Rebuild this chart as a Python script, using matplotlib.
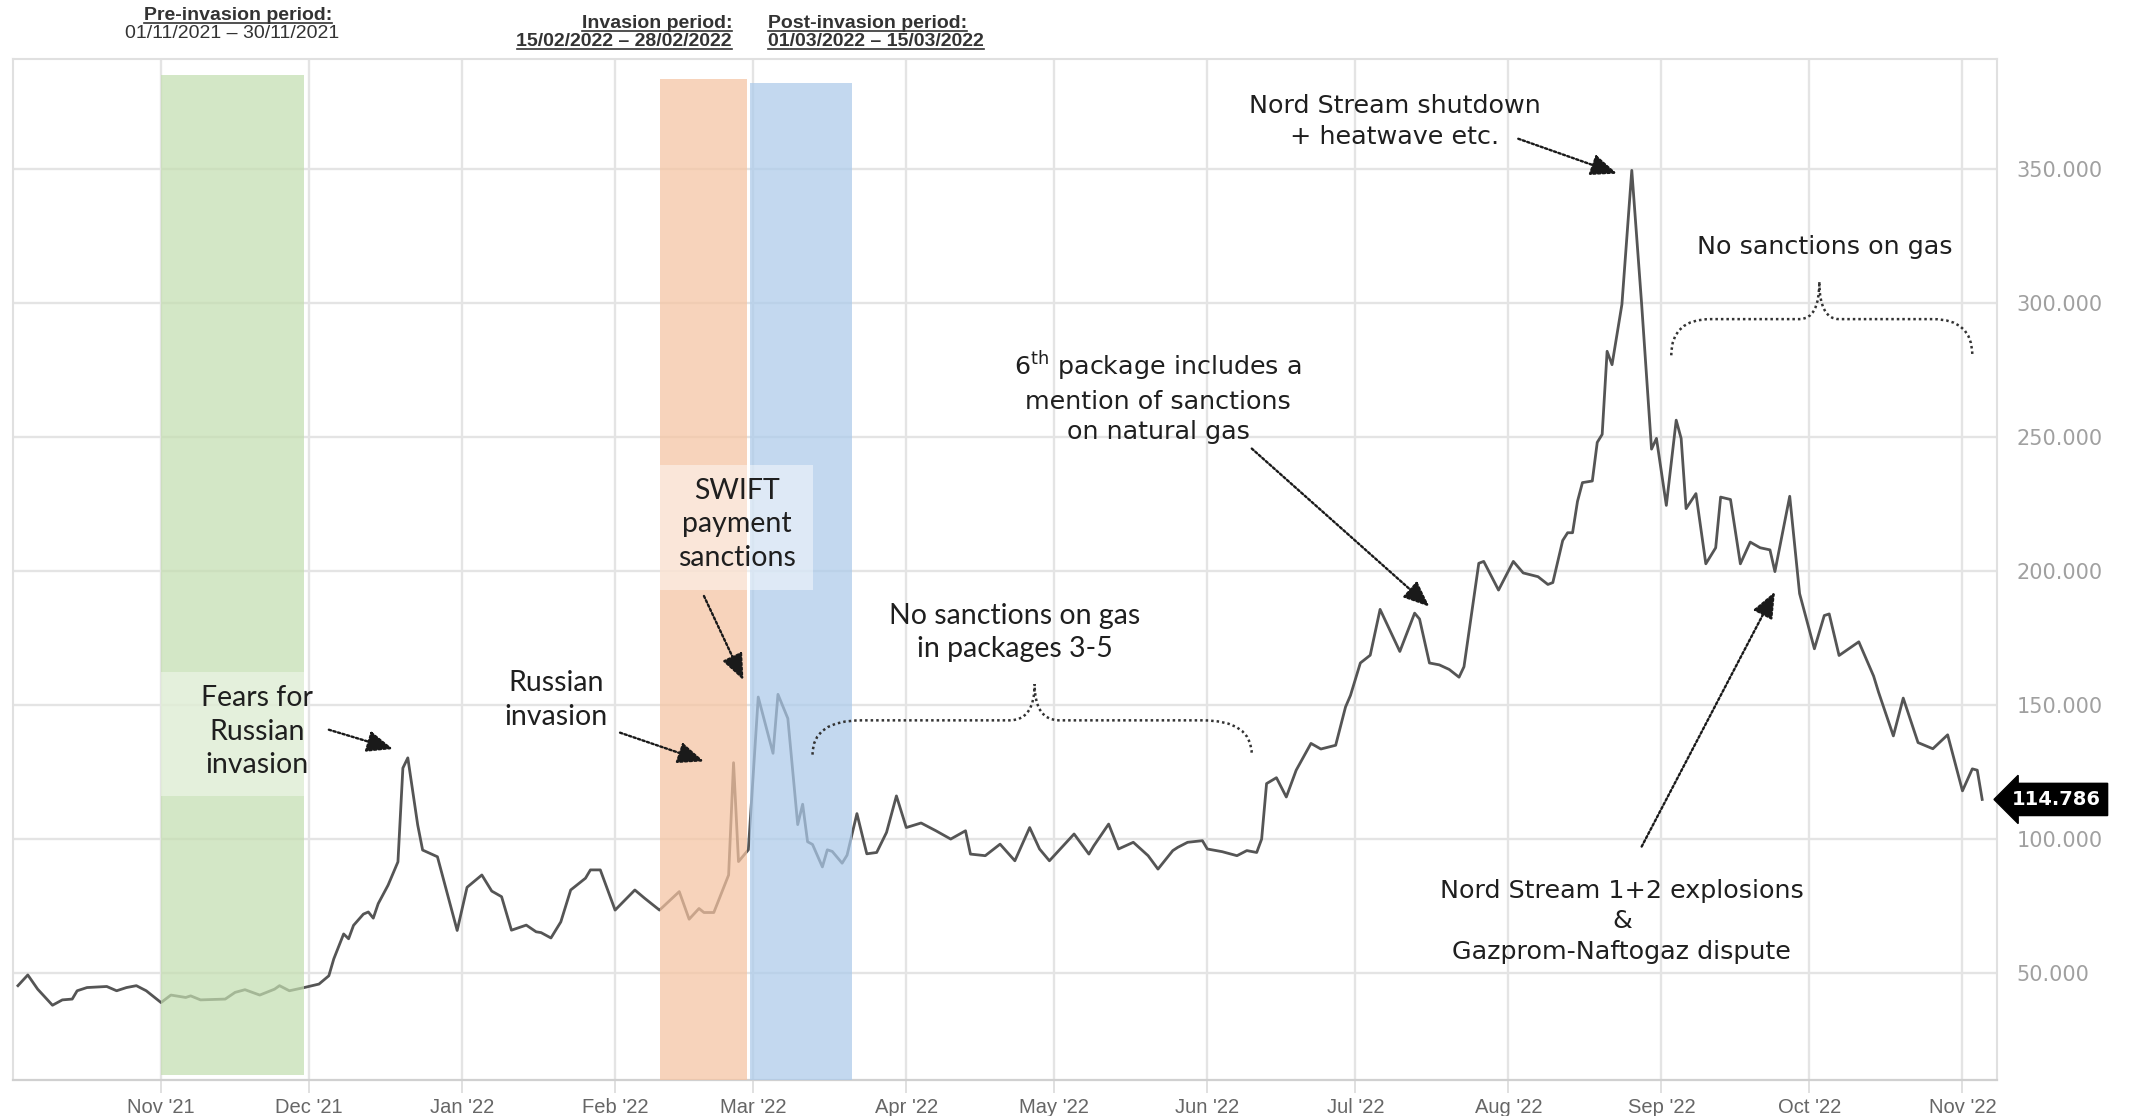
import matplotlib
matplotlib.use("Agg")
import matplotlib.pyplot as plt
import matplotlib.dates as mdates
from matplotlib.patches import Rectangle, PathPatch
from matplotlib.path import Path
from matplotlib.lines import Line2D
import numpy as np

# ---------------- data ----------------
dates = [
    "2021-10-03", "2021-10-05", "2021-10-07", "2021-10-10", "2021-10-12", "2021-10-14", "2021-10-15",
    "2021-10-17", "2021-10-21", "2021-10-23", "2021-10-25", "2021-10-27", "2021-10-29",
    "2021-11-01", "2021-11-03", "2021-11-06", "2021-11-07", "2021-11-09", "2021-11-14", "2021-11-16",
    "2021-11-18", "2021-11-21", "2021-11-24", "2021-11-25", "2021-11-27", "2021-11-30",
    "2021-12-03", "2021-12-05", "2021-12-06", "2021-12-08", "2021-12-09", "2021-12-10", "2021-12-12",
    "2021-12-13", "2021-12-14", "2021-12-15", "2021-12-17", "2021-12-19", "2021-12-20", "2021-12-21",
    "2021-12-23", "2021-12-24", "2021-12-27", "2021-12-28", "2021-12-31",
    "2022-01-02", "2022-01-05", "2022-01-07", "2022-01-09", "2022-01-11", "2022-01-14", "2022-01-16",
    "2022-01-17", "2022-01-19", "2022-01-21", "2022-01-23", "2022-01-26", "2022-01-27", "2022-01-29",
    "2022-02-01", "2022-02-05", "2022-02-07", "2022-02-10", "2022-02-14", "2022-02-16", "2022-02-18",
    "2022-02-19", "2022-02-21", "2022-02-24", "2022-02-25", "2022-02-26", "2022-02-28",
    "2022-03-02", "2022-03-05", "2022-03-06", "2022-03-08", "2022-03-10", "2022-03-11", "2022-03-12",
    "2022-03-13", "2022-03-15", "2022-03-16", "2022-03-17", "2022-03-19", "2022-03-20", "2022-03-22",
    "2022-03-24", "2022-03-26", "2022-03-28", "2022-03-30",
    "2022-04-01", "2022-04-04", "2022-04-07", "2022-04-10", "2022-04-13", "2022-04-14", "2022-04-17",
    "2022-04-20", "2022-04-23", "2022-04-26", "2022-04-28", "2022-04-30",
    "2022-05-05", "2022-05-08", "2022-05-09", "2022-05-12", "2022-05-14", "2022-05-17", "2022-05-20",
    "2022-05-22", "2022-05-25", "2022-05-26", "2022-05-28", "2022-05-31",
    "2022-06-01", "2022-06-04", "2022-06-07", "2022-06-09", "2022-06-11", "2022-06-12", "2022-06-13",
    "2022-06-15", "2022-06-17", "2022-06-19", "2022-06-22", "2022-06-24", "2022-06-27", "2022-06-29",
    "2022-06-30",
    "2022-07-02", "2022-07-04", "2022-07-06", "2022-07-10", "2022-07-13", "2022-07-14", "2022-07-16",
    "2022-07-18", "2022-07-20", "2022-07-22", "2022-07-23", "2022-07-26", "2022-07-27", "2022-07-30",
    "2022-08-02", "2022-08-04", "2022-08-07", "2022-08-09", "2022-08-10", "2022-08-12", "2022-08-13",
    "2022-08-14", "2022-08-15", "2022-08-16", "2022-08-18", "2022-08-19", "2022-08-20", "2022-08-21",
    "2022-08-22", "2022-08-24", "2022-08-26", "2022-08-28", "2022-08-30", "2022-08-31",
    "2022-09-02", "2022-09-04", "2022-09-05", "2022-09-06", "2022-09-08", "2022-09-10", "2022-09-12",
    "2022-09-13", "2022-09-15", "2022-09-17", "2022-09-19", "2022-09-21", "2022-09-23", "2022-09-24",
    "2022-09-27", "2022-09-29",
    "2022-10-02", "2022-10-04", "2022-10-05", "2022-10-07", "2022-10-11", "2022-10-12", "2022-10-14",
    "2022-10-15", "2022-10-18", "2022-10-20", "2022-10-23", "2022-10-26", "2022-10-29",
    "2022-11-01", "2022-11-03", "2022-11-04", "2022-11-05",
]
values = [
    45.3, 49.3, 44.0, 38.0, 40.0, 40.3, 43.4,
    44.6, 45.0, 43.4, 44.6, 45.3, 43.4,
    39.0, 41.8, 40.9, 41.5, 40.0, 40.3, 42.8,
    43.8, 41.8, 44.0, 45.3, 43.4, 44.6,
    45.9, 49.0, 55.3, 64.6, 62.8, 67.8, 72.0,
    72.8, 70.5, 75.9, 82.8, 91.5, 126.5, 130.3,
    105.3, 95.9, 93.4, 86.5, 65.9,
    82.0, 86.6, 80.6, 78.5, 66.0, 67.9, 65.4,
    65.1, 63.1, 69.1, 81.0, 85.4, 88.5, 88.5,
    73.5, 81.0, 77.9, 73.5, 80.4, 70.1, 74.1,
    72.6, 72.6, 86.6, 128.5, 91.6, 96.0,
    153.0, 132.0, 154.0, 145.0, 105.4, 113.0, 99.0,
    98.0, 89.6, 96.0, 95.4, 91.0, 94.0, 109.5,
    94.5, 95.0, 102.5, 116.1,
    104.3, 106.0, 103.1, 100.0, 103.1, 94.4, 93.8,
    98.1, 91.9, 104.3, 96.3, 91.9,
    101.9, 94.4, 97.5, 105.6, 96.3, 98.8, 93.8,
    88.8, 95.7, 96.9, 98.8, 99.4,
    96.3, 95.3, 93.8, 95.7, 95.0, 100.0, 120.7,
    122.9, 115.7, 125.7, 135.7, 133.6, 135.0, 149.3,
    153.6,
    165.7, 168.6, 185.7, 170.0, 184.3, 182.1, 165.7,
    165.0, 163.3, 160.4, 164.3, 202.9, 203.6, 192.9,
    203.6, 199.3, 197.9, 195.0, 195.7, 211.4, 214.3,
    214.3, 226.0, 233.0, 233.6, 248.0, 251.0, 282.0,
    277.0, 299.5, 349.5, 299.5, 245.5, 249.5,
    224.5, 256.3, 249.5, 223.3, 228.9, 202.7, 208.7,
    227.6, 226.7, 202.7, 210.8, 208.7, 207.9, 199.8,
    227.9, 191.6,
    171.0, 183.4, 184.0, 168.5, 173.6, 169.3, 160.8,
    154.8, 138.5, 152.6, 136.0, 133.7, 138.9,
    118.0, 126.2, 125.7, 114.786,
]
last_value = 114.786

month_ticks = ["2021-11-01", "2021-12-01", "2022-01-01", "2022-02-01", "2022-03-01", "2022-04-01",
               "2022-05-01", "2022-06-01", "2022-07-01", "2022-08-01", "2022-09-01", "2022-10-01",
               "2022-11-01"]
month_labels = ["Nov '21", "Dec '21", "Jan '22", "Feb '22", "Mar '22", "Apr '22", "May '22",
                "Jun '22", "Jul '22", "Aug '22", "Sep '22", "Oct '22", "Nov '22"]
y_ticks = [50, 100, 150, 200, 250, 300, 350]
y_labels = ["50.000", "100.000", "150.000", "200.000", "250.000", "300.000", "350.000"]

# shaded periods (start, end)
period_pre = ("2021-11-01", "2021-11-30")
period_inv = ("2022-02-10", "2022-02-27")
period_post = ("2022-02-28", "2022-03-21")

# ---------------- styling ----------------
NARROW = ["Liberation Sans", "DejaVu Sans"]
CAL = ["Lato", "DejaVu Sans"]
WIDE = ["DejaVu Sans"]

D = lambda s: mdates.datestr2num(s)

fig = plt.figure(figsize=(21.29, 11.16), dpi=100)
ax = fig.add_axes([0.0061, 0.032, 0.938 - 0.0061, 0.947 - 0.032])

x = np.array(dates, dtype="datetime64[D]")
ax.plot(x, values, color="#555555", lw=2.0, zorder=3, solid_joinstyle="round")

ax.set_xlim(D("2021-10-02"), D("2022-11-08"))
ax.set_ylim(10, 391)

# shaded spans (semi-transparent over the line)
ax.axvspan(D(period_pre[0]), D(period_pre[1]), ymin=0.005, ymax=(385 - 10) / 381,
           color="#c3deb0", alpha=0.72, lw=0, zorder=4)
ax.axvspan(D(period_inv[0]), D(period_inv[1]) + 0.7, ymin=0, ymax=(383.5 - 10) / 381,
           color="#f5c3a1", alpha=0.72, lw=0, zorder=4)
ax.axvspan(D(period_post[0]) + 0.4, D(period_post[1]), ymin=0, ymax=(382 - 10) / 381,
           color="#accaea", alpha=0.72, lw=0, zorder=4)

# grid & axes
ax.set_xticks([D(t) for t in month_ticks])
ax.set_xticklabels(month_labels, family=NARROW, fontsize=14.5, color="#666666")
ax.set_yticks(y_ticks)
ax.set_yticklabels(y_labels, family=WIDE, fontsize=15, color="#a0a0a0")
ax.yaxis.tick_right()
ax.tick_params(axis="y", length=0, pad=14)
ax.tick_params(axis="x", length=9, width=1.3, color="#dddddd", pad=4)
ax.grid(True, color="#e4e4e4", lw=1.7, zorder=0)
ax.set_axisbelow(True)
for s in ["left", "right", "top"]:
    ax.spines[s].set_color("#e0e0e0")
    ax.spines[s].set_linewidth(1.5)
ax.spines["bottom"].set_color("#d0d0d0")
ax.spines["bottom"].set_linewidth(1.6)

# last value tag
ax.annotate(f"{last_value:.3f}", xy=(1.0, last_value), xycoords=("axes fraction", "data"),
            xytext=(15, 0), textcoords="offset pixels", ha="left", va="center",
            color="white", fontweight="bold", fontsize=14, family=WIDE,
            bbox=dict(boxstyle="larrow,pad=0.34", fc="black", ec="black"), annotation_clip=False)

# ---------------- annotations ----------------
TXT = "#1f1f1f"
ax.add_patch(Rectangle((D("2021-11-01"), 116), D("2021-11-30") - D("2021-11-01"), 46.5,
                       fc="white", alpha=0.4, lw=0, zorder=5))
ax.add_patch(Rectangle((D("2022-02-10"), 193), D("2022-03-13") - D("2022-02-10"), 46.5,
                       fc="white", alpha=0.45, lw=0, zorder=5))

CS = 20.5
CL = 1.36
ax.text(D("2021-11-20") + 0.5, 140, "Fears for\nRussian\ninvasion", ha="center", va="center",
        fontsize=CS, family=CAL, color=TXT, linespacing=CL, zorder=6)
ax.text(D("2022-01-20"), 151.8, "Russian\ninvasion", ha="center", va="center",
        fontsize=CS, family=CAL, color=TXT, linespacing=CL, zorder=6)
ax.text(D("2022-02-25") + 0.7, 217.5, "SWIFT\npayment\nsanctions", ha="center", va="center",
        fontsize=CS, family=CAL, color=TXT, linespacing=CL, zorder=6)
ax.text(D("2022-04-23"), 177, "No sanctions on gas\nin packages 3-5", ha="center", va="center",
        fontsize=CS, family=CAL, color=TXT, linespacing=CL, zorder=6)

WS = 18.3
WL = 1.36
ax.text(D("2022-05-22"), 265, "6$^{\\mathregular{th}}$ package includes a\nmention of sanctions\non natural gas",
        ha="center", va="center", fontsize=WS, family=WIDE, color=TXT, linespacing=WL, zorder=6)
ax.text(D("2022-07-09"), 367.7, "Nord Stream shutdown\n+ heatwave etc.", ha="center", va="center",
        fontsize=WS, family=WIDE, color=TXT, linespacing=WL, zorder=6)
ax.text(D("2022-10-04"), 321, "No sanctions on gas", ha="center", va="center",
        fontsize=WS, family=WIDE, color=TXT, zorder=6)
ax.text(D("2022-08-24"), 69.3, "Nord Stream 1+2 explosions\n&\nGazprom-Naftogaz dispute",
        ha="center", va="center", fontsize=WS, family=WIDE, color=TXT, linespacing=WL, zorder=6)

arrows = [
    (("2021-12-05", 140.8), ("2021-12-18", 133.6)),
    (("2022-02-02", 139.7), ("2022-02-19", 129.0)),
    (("2022-02-19", 190.7), ("2022-02-27", 159.3)),
    (("2022-06-10", 245.7), ("2022-07-16", 186.7)),
    (("2022-08-03", 361.3), ("2022-08-23", 348.3)),
    (("2022-08-28", 97.2), ("2022-09-24", 192.3)),
]
for (t0, v0), (t1, v1) in arrows:
    ax.annotate("", xy=(D(t1), v1), xytext=(D(t0), v0),
                arrowprops=dict(arrowstyle="-|>,head_length=0.8,head_width=0.33",
                                linestyle=(0, (1, 1)), lw=1.7, color="#1a1a1a",
                                mutation_scale=20, shrinkA=0, shrinkB=0),
                zorder=6)


def brace(x0, x1, xm, yb, yh, yt, dx, dt):
    x0, x1, xm = D(x0), D(x1), D(xm)
    verts = [(x0, yb), (x0, yh), (x0 + dx, yh),
             (xm - dt, yh),
             (xm, yh), (xm, yt),
             (xm, yh), (xm + dt, yh),
             (x1 - dx, yh),
             (x1, yh), (x1, yb)]
    codes = [Path.MOVETO, Path.CURVE3, Path.CURVE3,
             Path.LINETO,
             Path.CURVE3, Path.CURVE3,
             Path.CURVE3, Path.CURVE3,
             Path.LINETO,
             Path.CURVE3, Path.CURVE3]
    ax.add_patch(PathPatch(Path(verts, codes), fill=False, ec="#333333", lw=1.8,
                           linestyle=(0, (1, 1.2)), zorder=6))


brace("2022-03-13", "2022-06-10", "2022-04-27", 131.5, 144.3, 157.8, 10, 5)
brace("2022-09-03", "2022-11-03", "2022-10-03", 280.5, 294.0, 308.0, 8, 4)

# ---------------- header ----------------
HC = "#333333"
fig.canvas.draw()
r = fig.canvas.get_renderer()
W, H = fig.bbox.width, fig.bbox.height


def header(xp, yp, s, ha, bold, ul):
    t = fig.text(xp / W, 1 - yp / H, s, ha=ha, va="center", family=NARROW, fontsize=14,
                 color=HC, fontweight="bold" if bold else "normal")
    if ul:
        bb = t.get_window_extent(r)
        fig.add_artist(Line2D([bb.x0 / W, bb.x1 / W], [(bb.y0 + 1) / H] * 2,
                              transform=fig.transFigure, color=HC, lw=1.2))
    return t


header(238, 15, "Pre-invasion period:", "center", True, True)
header(232, 33, "01/11/2021 \u2013 30/11/2021", "center", False, False)
header(732, 23, "Invasion period:", "right", True, True)
header(732, 41, "15/02/2022 \u2013 28/02/2022", "right", True, True)
header(768, 23, "Post-invasion period:", "left", True, True)
header(768, 41, "01/03/2022 \u2013 15/03/2022", "left", True, True)

fig.savefig("out.png", dpi=100, facecolor="white")
